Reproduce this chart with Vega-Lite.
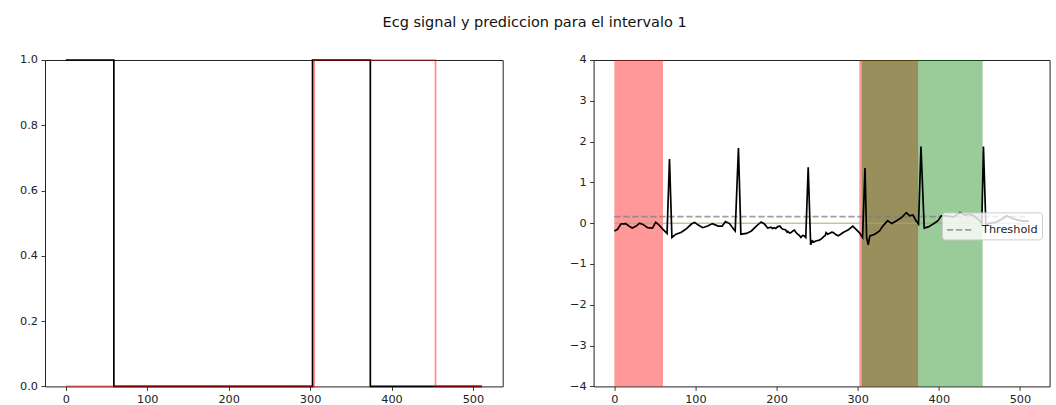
{
  "$schema": "https://vega.github.io/schema/vega-lite/v6.json",
  "background": "white",
  "padding": {"left": 19, "top": 15, "right": 5, "bottom": 0},
  "title": {"text": "Ecg signal y prediccion para el intervalo 1", "fontSize": 14.5, "font": "DejaVu Sans", "fontWeight": "normal", "color": "#111", "anchor": "middle", "offset": 22.5},
  "config": {
    "font": "DejaVu Sans",
    "view": {"stroke": "#222", "strokeWidth": 1},
    "axis": {"domain": false, "grid": false, "ticks": true, "tickColor": "#222", "tickSize": 4, "tickWidth": 0.9, "labelFont": "DejaVu Sans", "labelFontSize": 11.3, "labelColor": "#222", "labelPadding": 3.5, "title": null}
  },
  "datasets": {
    "truth": [{"x": 0, "v": 1}, {"x": 59, "v": 0}, {"x": 303, "v": 1}, {"x": 374, "v": 0}, {"x": 511, "v": 0}],
    "pred": [{"x": 0, "v": 0}, {"x": 305, "v": 1}, {"x": 454, "v": 0}, {"x": 511, "v": 0}],
    "spans": [
      {"start": 0, "end": 60, "kind": "true"},
      {"start": 302, "end": 374.5, "kind": "true"},
      {"start": 305, "end": 454, "kind": "pred"}
    ],
    "zero": [{"x": 0, "v": 0}, {"x": 511, "v": 0}],
    "thr": [{"x": 0, "v": 0.16}, {"x": 511, "v": 0.16}],
    "ecg": [
      {"x": 0, "v": -0.19}, {"x": 4, "v": -0.15}, {"x": 8, "v": -0.02}, {"x": 14, "v": -0.01}, {"x": 18, "v": -0.07},
      {"x": 22, "v": -0.12}, {"x": 27, "v": -0.07}, {"x": 31, "v": 0}, {"x": 36, "v": -0.04}, {"x": 41, "v": -0.11},
      {"x": 47, "v": -0.12}, {"x": 51, "v": 0.02}, {"x": 55, "v": -0.04}, {"x": 60, "v": -0.15}, {"x": 65, "v": -0.25},
      {"x": 68, "v": 1.57}, {"x": 71, "v": -0.35}, {"x": 76, "v": -0.27}, {"x": 82, "v": -0.23}, {"x": 88, "v": -0.15},
      {"x": 95, "v": -0.02}, {"x": 99, "v": 0.02}, {"x": 103, "v": -0.04}, {"x": 109, "v": -0.11}, {"x": 115, "v": -0.07},
      {"x": 121, "v": -0.01}, {"x": 128, "v": -0.07}, {"x": 133, "v": -0.07}, {"x": 137, "v": 0.04}, {"x": 142, "v": -0.01},
      {"x": 146, "v": -0.12}, {"x": 149, "v": -0.19}, {"x": 153, "v": 1.84}, {"x": 156, "v": -0.27}, {"x": 163, "v": -0.25},
      {"x": 169, "v": -0.19}, {"x": 175, "v": -0.07}, {"x": 181, "v": 0.03}, {"x": 185, "v": -0.02}, {"x": 189, "v": -0.12},
      {"x": 193, "v": -0.1}, {"x": 195, "v": -0.13}, {"x": 197, "v": -0.11}, {"x": 199, "v": -0.13}, {"x": 201, "v": -0.09},
      {"x": 204, "v": -0.07}, {"x": 206, "v": -0.12}, {"x": 208, "v": -0.15}, {"x": 211, "v": -0.16}, {"x": 213, "v": -0.22},
      {"x": 214, "v": -0.2}, {"x": 216, "v": -0.24}, {"x": 218, "v": -0.23}, {"x": 220, "v": -0.19}, {"x": 222, "v": -0.17},
      {"x": 224, "v": -0.23}, {"x": 226, "v": -0.27}, {"x": 228, "v": -0.3}, {"x": 230, "v": -0.35}, {"x": 232, "v": -0.3},
      {"x": 234, "v": -0.31}, {"x": 236, "v": -0.35}, {"x": 239, "v": 1.37}, {"x": 242, "v": -0.53},
      {"x": 244, "v": -0.43}, {"x": 246, "v": -0.46}, {"x": 249, "v": -0.43}, {"x": 252, "v": -0.42}, {"x": 255, "v": -0.39},
      {"x": 258, "v": -0.33}, {"x": 260, "v": -0.3}, {"x": 261, "v": -0.23}, {"x": 263, "v": -0.27},
      {"x": 265, "v": -0.25}, {"x": 268, "v": -0.22}, {"x": 270, "v": -0.23}, {"x": 273, "v": -0.28}, {"x": 276, "v": -0.31},
      {"x": 279, "v": -0.27}, {"x": 282, "v": -0.23}, {"x": 285, "v": -0.2},
      {"x": 288, "v": -0.17}, {"x": 291, "v": -0.12}, {"x": 294, "v": -0.07}, {"x": 298, "v": -0.15}, {"x": 302, "v": -0.23}, {"x": 306, "v": -0.35},
      {"x": 309, "v": 1.35}, {"x": 311, "v": -0.35}, {"x": 313, "v": -0.53}, {"x": 315, "v": -0.31}, {"x": 321, "v": -0.27},
      {"x": 327, "v": -0.19}, {"x": 331, "v": -0.07}, {"x": 337, "v": 0.06}, {"x": 342, "v": -0.01}, {"x": 348, "v": 0.06},
      {"x": 354, "v": 0.14}, {"x": 360, "v": 0.26}, {"x": 364, "v": 0.18}, {"x": 368, "v": 0.2}, {"x": 372, "v": 0.06},
      {"x": 375, "v": -0.02}, {"x": 378, "v": 1.88}, {"x": 382, "v": -0.12}, {"x": 387, "v": -0.09}, {"x": 393, "v": -0.02},
      {"x": 399, "v": 0.06}, {"x": 403, "v": 0.18}, {"x": 410, "v": 0.18}, {"x": 418, "v": 0.15}, {"x": 426, "v": 0.26},
      {"x": 432, "v": 0.2}, {"x": 438, "v": 0.22}, {"x": 443, "v": 0.18}, {"x": 448, "v": 0.1}, {"x": 451, "v": 0.05},
      {"x": 453, "v": -0.02}, {"x": 455, "v": 1.88}, {"x": 458, "v": -0.05}, {"x": 462, "v": 0.0}, {"x": 470, "v": 0.02},
      {"x": 478, "v": 0.1}, {"x": 484, "v": 0.18}, {"x": 490, "v": 0.12}, {"x": 497, "v": 0.08}, {"x": 504, "v": 0.05},
      {"x": 511, "v": 0.05}
    ]
  },
  "spacing": 90.6,
  "bounds": "flush",
  "resolve": {"scale": {"x": "independent", "y": "independent", "fill": "independent", "stroke": "independent"}},
  "hconcat": [
    {
      "width": 457.7,
      "height": 326.4,
      "layer": [
        {
          "data": {"name": "truth"},
          "mark": {"type": "line", "interpolate": "step-after", "color": "black", "strokeWidth": 1.7},
          "encoding": {
            "x": {"field": "x", "type": "quantitative", "scale": {"domain": [-25.55, 536.55], "nice": false, "zero": false}, "axis": {"values": [0, 100, 200, 300, 400, 500]}},
            "y": {"field": "v", "type": "quantitative", "scale": {"domain": [0, 1], "nice": false}, "axis": {"values": [0, 0.2, 0.4, 0.6, 0.8, 1], "format": ".1f"}}
          }
        },
        {
          "data": {"name": "pred"},
          "mark": {"type": "line", "interpolate": "step-after", "color": "red", "opacity": 0.45, "strokeWidth": 1.7},
          "encoding": {
            "x": {"field": "x", "type": "quantitative"},
            "y": {"field": "v", "type": "quantitative"}
          }
        }
      ]
    },
    {
      "width": 456,
      "height": 326.4,
      "layer": [
        {
          "data": {"name": "spans"},
          "mark": {"type": "rect", "opacity": 0.4},
          "encoding": {
            "x": {"field": "start", "type": "quantitative", "scale": {"domain": [-25.55, 536.55], "nice": false, "zero": false}, "axis": {"values": [0, 100, 200, 300, 400, 500]}},
            "x2": {"field": "end"},
            "fill": {"field": "kind", "type": "nominal", "scale": {"domain": ["true", "pred"], "range": ["#ff0000", "#008000"]}, "legend": null}
          }
        },
        {
          "data": {"name": "zero"},
          "mark": {"type": "line", "color": "#b5a46e", "strokeWidth": 1},
          "encoding": {
            "x": {"field": "x", "type": "quantitative"},
            "y": {"field": "v", "type": "quantitative", "scale": {"domain": [-4, 4], "nice": false}, "axis": {"values": [-4, -3, -2, -1, 0, 1, 2, 3, 4]}}
          }
        },
        {
          "data": {"name": "thr"},
          "mark": {"type": "line", "strokeWidth": 1.7, "strokeDash": [6.3, 2.7], "opacity": 0.75},
          "encoding": {
            "x": {"field": "x", "type": "quantitative"},
            "y": {"field": "v", "type": "quantitative"},
            "stroke": {"datum": "Threshold", "type": "nominal", "scale": {"range": ["#808080"]},
              "legend": {"orient": "none", "legendX": 348.4, "legendY": 152.4, "title": null, "symbolType": "stroke", "symbolSize": 625, "symbolStrokeWidth": 1.7, "symbolDash": [6.3, 2.7], "symbolOpacity": 0.75, "labelFont": "DejaVu Sans", "labelFontSize": 11.3, "labelColor": "#222", "labelOffset": 9, "padding": 4, "fillColor": "rgba(255,255,255,0.8)", "strokeColor": "#cccccc", "cornerRadius": 3}}
          }
        },
        {
          "data": {"name": "ecg"},
          "mark": {"type": "line", "color": "black", "strokeWidth": 1.7},
          "encoding": {
            "x": {"field": "x", "type": "quantitative"},
            "y": {"field": "v", "type": "quantitative"}
          }
        }
      ]
    }
  ]
}
